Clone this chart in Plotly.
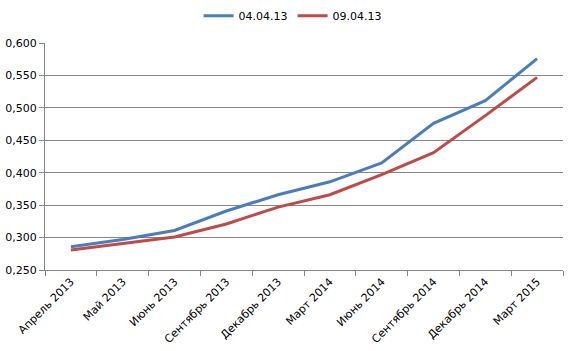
import plotly.graph_objects as go

categories = ["Апрель 2013", "Май 2013", "Июнь 2013", "Сентябрь 2013", "Декабрь 2013",
              "Март 2014", "Июнь 2014", "Сентябрь 2014", "Декабрь 2014", "Март 2015"]
series_0404 = [0.286, 0.297, 0.311, 0.341, 0.366, 0.386, 0.415, 0.476, 0.511, 0.576]
series_0904 = [0.281, 0.291, 0.301, 0.321, 0.347, 0.366, 0.397, 0.431, 0.488, 0.547]
y_ticks = [0.25, 0.30, 0.35, 0.40, 0.45, 0.50, 0.55, 0.60]

fig = go.Figure()
fig.add_trace(go.Scatter(x=categories, y=series_0404, mode="lines", name="04.04.13",
                         line=dict(color="#4A7EBB", width=3)))
fig.add_trace(go.Scatter(x=categories, y=series_0904, mode="lines", name="09.04.13",
                         line=dict(color="#BE4B48", width=3)))

fig.update_layout(
    width=570, height=351,
    margin=dict(l=45, r=7, t=43, b=81, autoexpand=False),
    paper_bgcolor="white", plot_bgcolor="white",
    separators=", ",
    font=dict(family="DejaVu Sans, Arial", size=11, color="black"),
    showlegend=True,
    legend=dict(orientation="h", x=0.478, xanchor="center", y=1.12, yanchor="middle",
                font=dict(size=11), itemwidth=30, tracegroupgap=0),
    xaxis=dict(type="category", tickangle=-45, tickson="boundaries", ticks="outside",
               ticklen=5, tickcolor="#868686", showline=True, linecolor="#868686",
               linewidth=1, showgrid=False, range=[-0.5, 9.5], tickfont=dict(size=11)),
    yaxis=dict(range=[0.25, 0.6], tickvals=y_ticks, tickformat=".3f", ticks="outside",
               ticklen=5, tickcolor="#868686", showline=True, linecolor="#868686",
               linewidth=1, showgrid=True, gridcolor="#868686", gridwidth=1,
               zeroline=False, tickfont=dict(size=11)),
)

fig.write_html("out.html")
